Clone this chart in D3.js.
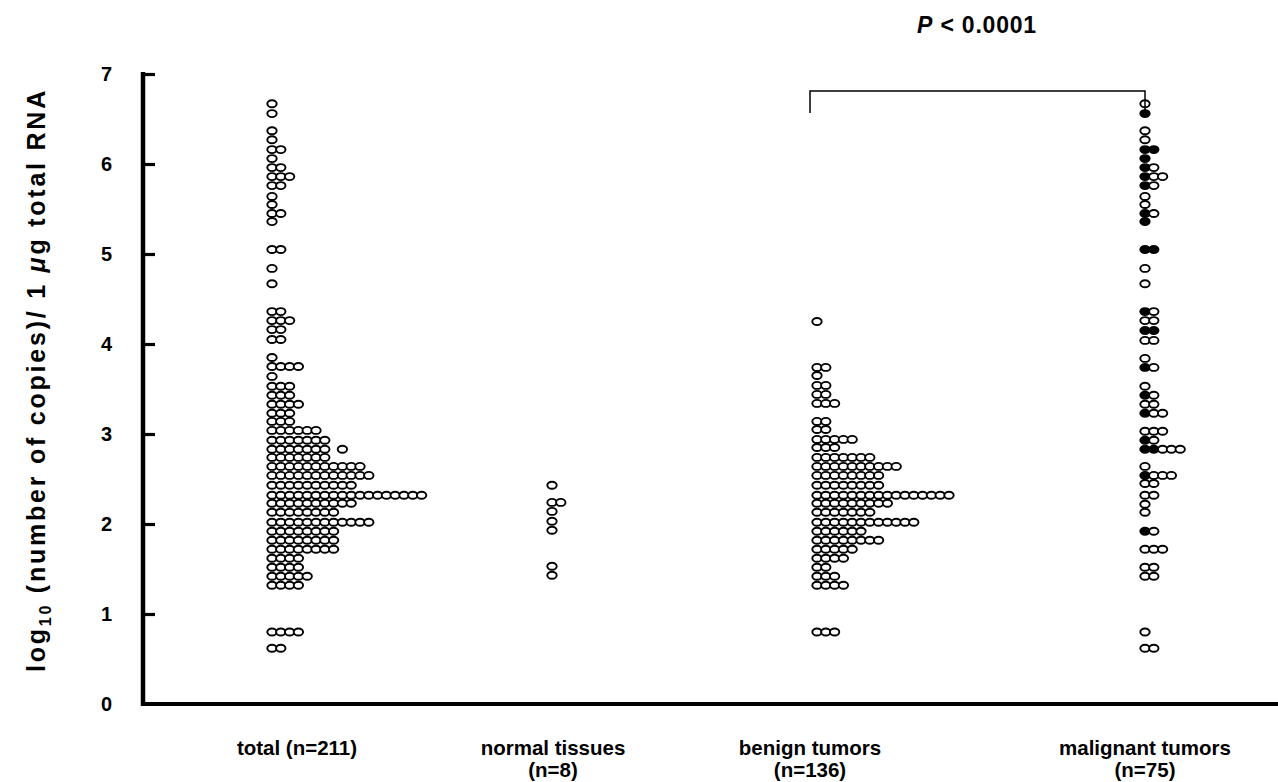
<!DOCTYPE html>
<html>
<head>
<meta charset="utf-8">
<script src="https://cdn.jsdelivr.net/npm/d3@7"></script>
<style>
  html, body { margin: 0; padding: 0; background: #fff; }
  svg { display: block; font-family: "Liberation Sans", Arial, Helvetica, sans-serif; }
</style>
</head>
<body>
<div id="chart"></div>
<script>
// categories and their labels
const categories = ['total', 'normal', 'benign', 'malignant'];
const categoryLabels = [['total (n=211)'], ['normal tissues', '(n=8)'], ['benign tumors', '(n=136)'], ['malignant tumors', '(n=75)']];
const yTicks = [0, 1, 2, 3, 4, 5, 6, 7];

// total (n=211): level (log10 copies) and number of samples at that level
const totalLevels = [6.67, 6.56, 6.37, 6.27, 6.16, 6.06, 5.96, 5.86, 5.76, 5.64, 5.55, 5.45, 5.36, 5.05, 4.84, 4.67,
  4.36, 4.26, 4.16, 4.05, 3.85, 3.75, 3.64, 3.53, 3.43, 3.33, 3.23, 3.14, 3.04, 2.93, 2.83,
  2.74, 2.64, 2.54, 2.43, 2.32, 2.23, 2.13, 2.02, 1.92, 1.82, 1.72, 1.62, 1.52, 1.42, 1.32, 0.80, 0.62];
const totalCounts = [1, 1, 1, 1, 2, 1, 2, 3, 2, 1, 1, 2, 1, 2, 1, 1,
  2, 3, 2, 2, 1, 4, 1, 3, 3, 4, 3, 3, 6, 7, 8,
  7, 11, 12, 10, 18, 10, 8, 12, 8, 8, 8, 4, 4, 5, 4, 4, 2];
// one row in the total column has an empty slot before its last dot
const totalGapLevel = 2.83;
const totalGapSlot = 7;

// normal tissues (n=8)
const normalLevels = [2.43, 2.24, 2.14, 2.03, 1.93, 1.53, 1.43];
const normalCounts = [1, 2, 1, 1, 1, 1, 1];

// benign tumors (n=136)
const benignLevels = [4.25, 3.74, 3.65, 3.54, 3.44, 3.34, 3.14, 3.05, 2.94, 2.85, 2.74, 2.64, 2.54,
  2.43, 2.32, 2.23, 2.13, 2.02, 1.92, 1.82, 1.72, 1.62, 1.52, 1.42, 1.32, 0.80];
const benignCounts = [1, 2, 1, 2, 2, 3, 2, 2, 5, 3, 7, 10, 8,
  8, 16, 9, 7, 12, 6, 8, 5, 4, 2, 3, 4, 3];

// malignant tumors (n=75), with how many of each row are filled
const malignantLevels = [6.67, 6.56, 6.37, 6.27, 6.16, 6.06, 5.96, 5.86, 5.76, 5.64, 5.55, 5.45, 5.36, 5.05, 4.84, 4.67,
  4.36, 4.26, 4.15, 4.04, 3.84, 3.74, 3.53, 3.43, 3.33, 3.23, 3.03, 2.93, 2.83, 2.64, 2.54, 2.45,
  2.32, 2.22, 2.13, 1.92, 1.72, 1.52, 1.42, 0.80, 0.62];
const malignantCounts = [1, 1, 1, 1, 2, 1, 2, 3, 2, 1, 1, 2, 1, 2, 1, 1,
  2, 2, 2, 2, 1, 2, 1, 2, 2, 3, 3, 2, 5, 1, 4, 2,
  2, 1, 1, 2, 3, 2, 2, 1, 2];
const malignantFilled = [0, 1, 0, 0, 2, 1, 1, 1, 1, 0, 0, 1, 1, 2, 0, 0,
  1, 0, 2, 0, 0, 1, 0, 1, 0, 1, 0, 1, 2, 0, 1, 0,
  0, 0, 0, 1, 0, 0, 0, 0, 0];

const pLabel = 'P';
const pValue = ' < 0.0001';

const width = 1278, height = 782;
const svg = d3.select('#chart').append('svg')
  .attr('width', width)
  .attr('height', height);

const y = d3.scaleLinear().domain([0, 7]).range([704, 74]);
// first-dot position of each column
const x = d3.scaleOrdinal().domain(categories).range([272, 552, 817, 1145]);
const labelX = d3.scaleOrdinal().domain(categories).range([297, 553, 810, 1145]);
const step = 8.8;

function buildDots(cat, levels, counts, filled) {
  const dots = [];
  levels.forEach((v, r) => {
    for (let i = 0; i < counts[r]; i++) {
      let slot = i;
      if (cat === 'total' && v === totalGapLevel && i >= totalGapSlot) slot = i + 1;
      dots.push({ cat, v, slot, filled: filled ? i < filled[r] : false });
    }
  });
  return dots;
}

const dots = [].concat(
  buildDots('total', totalLevels, totalCounts),
  buildDots('normal', normalLevels, normalCounts),
  buildDots('benign', benignLevels, benignCounts),
  buildDots('malignant', malignantLevels, malignantCounts, malignantFilled)
);

// y axis, ticks pointing inward
const yAxis = d3.axisLeft(y)
  .tickValues(yTicks)
  .tickSizeInner(-12)
  .tickSizeOuter(0)
  .tickPadding(31)
  .tickFormat(d3.format('d'));

const gy = svg.append('g')
  .attr('transform', 'translate(143,0)')
  .call(yAxis);
gy.select('.domain').attr('stroke', '#000').attr('stroke-width', 4.5)
  .attr('d', `M0,${y(7) - 2}V${y(0) + 2}`);
gy.selectAll('.tick line').attr('stroke', '#000').attr('stroke-width', 3.2)
  .filter(d => d === 0).remove();
gy.selectAll('.tick text')
  .attr('fill', '#000')
  .attr('font-size', 20)
  .attr('font-weight', 'bold')
  .attr('font-family', '"Liberation Sans", Arial, sans-serif');

// x axis baseline
svg.append('line')
  .attr('x1', 141).attr('x2', width)
  .attr('y1', y(0)).attr('y2', y(0))
  .attr('stroke', '#000').attr('stroke-width', 4);

// dots
svg.append('g').selectAll('ellipse')
  .data(dots)
  .join('ellipse')
  .attr('cx', d => x(d.cat) + d.slot * step)
  .attr('cy', d => y(d.v))
  .attr('rx', 4.7)
  .attr('ry', 3.5)
  .attr('fill', d => d.filled ? '#000' : '#fff')
  .attr('stroke', '#000')
  .attr('stroke-width', 1.9);

// category labels
const labels = svg.append('g')
  .attr('font-size', 20.5)
  .attr('font-weight', 'bold')
  .attr('text-anchor', 'middle');
categories.forEach((c, i) => {
  categoryLabels[i].forEach((line, j) => {
    labels.append('text')
      .attr('x', labelX(c))
      .attr('y', 755 + j * 22)
      .text(line);
  });
});

// y axis title, spread over the axis height like the original
const title = svg.append('text')
  .attr('transform', 'translate(45,380) rotate(-90)')
  .attr('text-anchor', 'middle')
  .attr('font-size', 25)
  .attr('font-weight', 'bold');
title.append('tspan').text('log');
title.append('tspan').attr('font-size', 16).attr('dy', 6).text('10');
title.append('tspan').attr('dy', -6).text(' (number of copies)/ 1 ');
title.append('tspan').attr('font-style', 'italic').text('\u03bc');
title.append('tspan').text('g total RNA');
const titleLen = title.node().getComputedTextLength();
const titleChars = title.text().length;
title.attr('letter-spacing', Math.max(0, (584 - titleLen) / titleChars));

// significance bracket
const bx1 = x('benign') - 7, bx2 = x('malignant');
svg.append('path')
  .attr('d', `M${bx1},113V91H${bx2}V113`)
  .attr('fill', 'none')
  .attr('stroke', '#000')
  .attr('stroke-width', 1.5);

const pText = svg.append('text')
  .attr('x', 977)
  .attr('y', 33)
  .attr('text-anchor', 'middle')
  .attr('font-size', 23)
  .attr('font-weight', 'bold')
  .attr('letter-spacing', 0.8);
pText.append('tspan').attr('font-style', 'italic').text(pLabel);
pText.append('tspan').text(pValue);
</script>
</body>
</html>
